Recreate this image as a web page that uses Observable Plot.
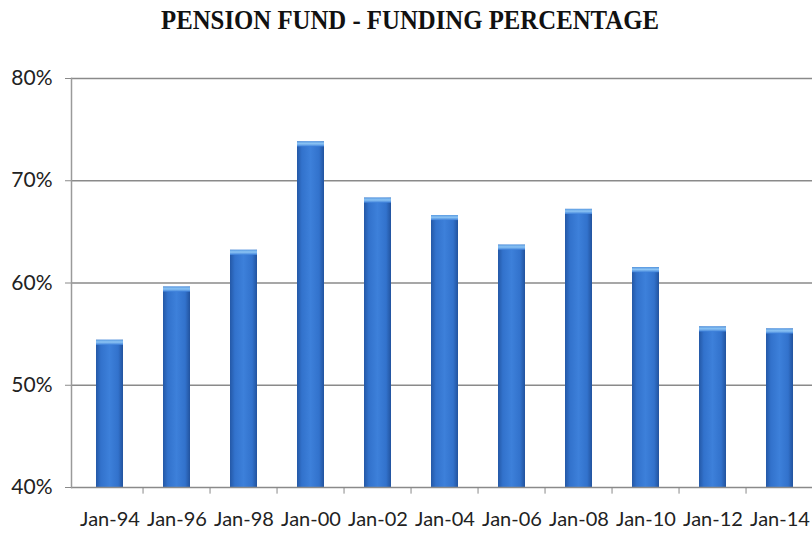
<!DOCTYPE html>
<html>
<head>
<meta charset="utf-8">
<script src="https://cdn.jsdelivr.net/npm/d3@7"></script>
<script src="https://cdn.jsdelivr.net/npm/@observablehq/plot@0.6"></script>
<style>
  html, body { margin: 0; padding: 0; background: #fff; }
  #title { height: 45px; width: 812px; position: relative; }
  #title span { position: absolute; left: 410px; top: 4px; transform: translateX(-50%) scaleX(0.885); white-space: nowrap;
    font-family: "Liberation Serif", "DejaVu Serif", serif; font-weight: bold; font-size: 28px; color: #111; }
  #chart svg { display: block; }
</style>
</head>
<body>
<div id="title"><span>PENSION FUND - FUNDING PERCENTAGE</span></div>
<div id="chart"></div>
<script>
const categories = ["Jan-94","Jan-96","Jan-98","Jan-00","Jan-02","Jan-04","Jan-06","Jan-08","Jan-10","Jan-12","Jan-14"];
const funding = [0.544, 0.596, 0.632, 0.738, 0.683, 0.666, 0.637, 0.672, 0.615, 0.557, 0.555];
const yTicks = [0.4, 0.5, 0.6, 0.7, 0.8];

const data = categories.map((c, i) => ({date: c, value: funding[i]}));

const W = 812, H = 490, left = 71, right = 818;
const step = (right - left) / categories.length;

const chart = Plot.plot({
  width: W,
  height: H,
  marginLeft: left,
  marginRight: 0,
  marginTop: 33,
  marginBottom: 48,
  style: {fontFamily: "Lato, sans-serif", background: "#fff", overflow: "visible"},
  x: {domain: categories, range: [left, right], paddingInner: 0.59, paddingOuter: 0.295, label: null},
  y: {domain: [0.4, 0.8], label: null},
  marks: [
    Plot.ruleY(yTicks.slice(1), {stroke: "#8a8a8a", strokeWidth: 1.5}),
    Plot.barY(data, {x: "date", y1: 0.4, y2: "value", fill: "url(#barGrad)"}),
    Plot.barY(data, {x: "date", y1: "value", y2: d => d.value - 0.005, fill: "url(#capGrad)"}),
    Plot.ruleY([0.4], {stroke: "#8a8a8a", strokeWidth: 1.5}),
    Plot.frame({anchor: "left", stroke: "#9a9a9a", strokeWidth: 1.5}),
    Plot.ruleX(categories.slice(1), {x: d => d, y1: 0.4, y2: 0.3935, dx: -step / 2, stroke: "#8a8a8a"}),
    Plot.axisY({ticks: yTicks, tickFormat: d3.format(".0%"), tickSize: 6, tickPadding: 13, stroke: "#8a8a8a", fontSize: 21, fill: "#222", label: null}),
    Plot.axisX({tickSize: 0, tickPadding: 24, fontSize: 20, fill: "#222", label: null})
  ]
});

const svg = d3.select(chart);
const defs = svg.insert("defs", ":first-child");
const g = defs.append("linearGradient").attr("id", "barGrad").attr("x1", "0").attr("x2", "1").attr("y1", "0").attr("y2", "0");
g.append("stop").attr("offset", "0%").attr("stop-color", "#2458a6");
g.append("stop").attr("offset", "18%").attr("stop-color", "#3272cc");
g.append("stop").attr("offset", "50%").attr("stop-color", "#3d80da");
g.append("stop").attr("offset", "82%").attr("stop-color", "#3272cc");
g.append("stop").attr("offset", "100%").attr("stop-color", "#22539e");
const c = defs.append("linearGradient").attr("id", "capGrad").attr("x1", "0").attr("x2", "0").attr("y1", "0").attr("y2", "1");
c.append("stop").attr("offset", "0%").attr("stop-color", "#5a9be2");
c.append("stop").attr("offset", "45%").attr("stop-color", "#8cc4f4");
c.append("stop").attr("offset", "100%").attr("stop-color", "#3d80da");

document.getElementById("chart").appendChild(chart);
</script>
</body>
</html>
